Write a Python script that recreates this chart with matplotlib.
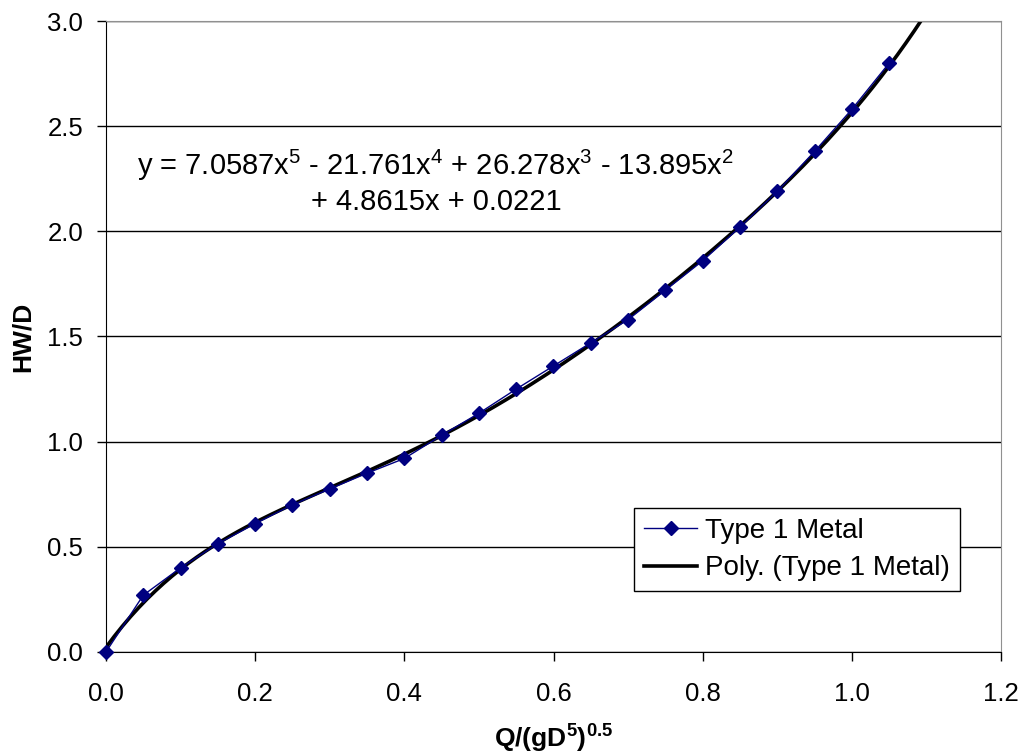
import numpy as np
import matplotlib.pyplot as plt

plt.rcParams['font.family'] = ['Liberation Sans', 'DejaVu Sans']
plt.rcParams['mathtext.fontset'] = 'custom'
plt.rcParams['mathtext.rm'] = 'Liberation Sans'
plt.rcParams['mathtext.it'] = 'Liberation Sans'
plt.rcParams['mathtext.bf'] = 'Liberation Sans:bold'

# measured points, Type 1 Metal
q = [0.0, 0.05, 0.10, 0.15, 0.20, 0.25, 0.30, 0.35, 0.40, 0.45, 0.50,
     0.55, 0.60, 0.65, 0.70, 0.75, 0.80, 0.85, 0.90, 0.95, 1.00, 1.05]
hw = [0.0, 0.27, 0.40, 0.515, 0.61, 0.70, 0.775, 0.85, 0.92, 1.03, 1.135,
      1.25, 1.36, 1.47, 1.58, 1.72, 1.86, 2.02, 2.19, 2.38, 2.58, 2.80]

# trendline coefficients as printed on the chart
coef = [7.0587, -21.761, 26.278, -13.895, 4.8615, 0.0221]
xfit = np.linspace(0, 1.1, 200)
yfit = np.polyval(coef, xfit)

fig = plt.figure(figsize=(10.25, 7.56), dpi=100)
ax = fig.add_axes([0.1034, 0.1376, 0.8732, 0.8346])

ax.plot(xfit, yfit, color='black', lw=2.6, label='Poly. (Type 1 Metal)', zorder=2)
ax.plot(q, hw, color='#000080', lw=1, marker='D', ms=7, label='Type 1 Metal',
        clip_on=False, zorder=3)

ax.set_xlim(0, 1.2)
ax.set_ylim(0, 3.0)
ax.set_xticks(np.arange(0, 1.21, 0.2))
ax.set_yticks(np.arange(0, 3.01, 0.5))
ax.xaxis.set_major_formatter(plt.FormatStrFormatter('%.1f'))
ax.yaxis.set_major_formatter(plt.FormatStrFormatter('%.1f'))
ax.tick_params(labelsize=18.5, direction='out', length=6.5, width=1)
ax.tick_params(axis='y', pad=10)
ax.tick_params(axis='x', pad=15)
ax.yaxis.grid(True, color='black', lw=1)
ax.set_axisbelow(True)

for s in ['top', 'right']:
    ax.spines[s].set_color('#909090')
for s in ['left', 'bottom']:
    ax.spines[s].set_color('black')

ax.set_xlabel(r'Q/(gD$^\mathbf{5}$)$^\mathbf{0.5}$', fontsize=19, fontweight='bold', labelpad=12)
ax.set_ylabel('HW/D', fontsize=19, fontweight='bold', labelpad=9)

ax.text(0.4425, 2.235,
        r'y = 7.0587x$^5$ - 21.761x$^4$ + 26.278x$^3$ - 13.895x$^2$' + '\n+ 4.8615x + 0.0221',
        fontsize=21, ha='center', va='center', linespacing=1.2, multialignment='center')

handles, labels = ax.get_legend_handles_labels()
leg = ax.legend(handles[::-1], labels[::-1], loc='lower right',
                bbox_to_anchor=(0.954, 0.0967), fontsize=20,
                frameon=True, fancybox=False, edgecolor='black', framealpha=1,
                handlelength=1.9, borderpad=0.35, labelspacing=0.4, handletextpad=0.3,
                borderaxespad=0)
leg.get_frame().set_linewidth(1)

fig.savefig('out.png', dpi=100)
